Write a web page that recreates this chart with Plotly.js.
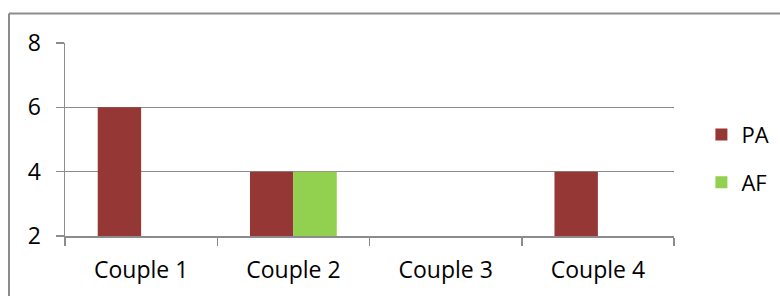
<!DOCTYPE html>
<html>
<head>
<meta charset="utf-8">
<script src="https://cdn.plot.ly/plotly-3.0.1.min.js"></script>
<style>html,body{margin:0;padding:0;background:#fff;}#chart{width:780px;height:296px;}</style>
</head>
<body>
<div id="chart"></div>
<script>
const categories = ["Couple 1", "Couple 2", "Couple 3", "Couple 4"];
const seriesNames = ["PA", "AF"];
const paValues = [6, 4, 2, 4];
const afValues = [2, 4, 2, 2];
const yTicks = [2, 4, 6, 8];

const fontFamily = "Open Sans, Noto Sans, sans-serif";
const gridColor = "#8c8c8c";

const traces = [
  {type: "bar", name: seriesNames[0], x: categories, y: paValues,
   marker: {color: "#953735", line: {width: 0}}, legendgroup: "a"},
  {type: "bar", name: seriesNames[1], x: categories, y: afValues,
   marker: {color: "#92d050", line: {width: 0}}, legendgroup: "b"}
];

const layout = {
  width: 780, height: 296,
  margin: {l: 65, r: 106, t: 43, b: 60, autoexpand: false},
  paper_bgcolor: "#ffffff", plot_bgcolor: "#ffffff",
  font: {family: fontFamily, size: 23, color: "#000000"},
  barmode: "group", bargap: 0.43, bargroupgap: 0,
  showlegend: true,
  legend: {x: 1.045, xanchor: "left", y: 0.40, yanchor: "middle",
           font: {family: fontFamily, size: 22, color: "#000"},
           tracegroupgap: 16, bgcolor: "rgba(0,0,0,0)"},
  xaxis: {type: "category", tickson: "boundaries", ticks: "outside", ticklen: 8,
          tickcolor: gridColor, tickwidth: 1.5, showline: true, linecolor: gridColor, linewidth: 1.5,
          showgrid: false, ticklabelstandoff: 13, fixedrange: true},
  yaxis: {range: [2, 8], tickvals: yTicks, ticktext: yTicks.map(String), ticks: "outside", ticklen: 8,
          tickcolor: gridColor, tickwidth: 1.5, showline: true, linecolor: gridColor, linewidth: 1.5,
          showgrid: true, gridcolor: gridColor, gridwidth: 1.5, zeroline: false,
          ticklabelstandoff: 10, fixedrange: true},
  shapes: [
    {type: "line", xref: "paper", yref: "paper", x0: (9 - 65) / 609, x1: (790 - 65) / 609,
     y0: 1 + (43 - 13.5) / 193, y1: 1 + (43 - 13.5) / 193, line: {color: gridColor, width: 2}},
    {type: "line", xref: "paper", yref: "paper", x0: (9 - 65) / 609, x1: (9 - 65) / 609,
     y0: 1 + (43 - 13.5) / 193, y1: -70 / 193, line: {color: gridColor, width: 2}}
  ]
};

Plotly.newPlot("chart", traces, layout, {displayModeBar: false, staticPlot: true});
</script>
</body>
</html>
